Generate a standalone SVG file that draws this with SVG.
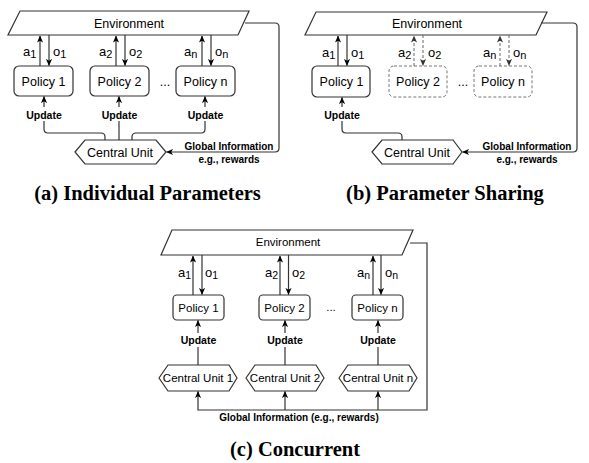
<svg xmlns="http://www.w3.org/2000/svg" width="589" height="463" viewBox="0 0 589 463">
<style>
.shape{fill:#fff;stroke:#333;stroke-width:1.2}
.dash{fill:#fff;stroke:#777;stroke-width:1;stroke-dasharray:3 2}
.ln{fill:none;stroke:#333;stroke-width:1.2}
.dl{fill:none;stroke:#666;stroke-width:1;stroke-dasharray:3 2}
text{font-family:"Liberation Sans",Arial,sans-serif;fill:#000}
.t12{font-size:12.5px;text-anchor:middle}
.t11{font-size:11.5px;text-anchor:middle}
.up{font-size:10.5px;font-weight:bold;text-anchor:middle}
.gi{font-size:10px;font-weight:bold;text-anchor:middle}
.lbl{font-size:13px}
.cap{font-family:"Liberation Serif","Times New Roman",serif;font-size:20.5px;font-weight:bold;text-anchor:middle}
</style>
<defs>
<marker id="ah" viewBox="0 0 8 8" refX="7.5" refY="4" markerWidth="7" markerHeight="7" markerUnits="userSpaceOnUse" orient="auto"><path d="M0,0.5 L8,4 L0,7.5 L2,4 Z" fill="#000"/></marker>
<marker id="ahg" viewBox="0 0 8 8" refX="7.5" refY="4" markerWidth="7" markerHeight="7" markerUnits="userSpaceOnUse" orient="auto"><path d="M0,0.5 L8,4 L0,7.5 L2,4 Z" fill="#333"/></marker>
</defs>

<!-- Panel (a) -->
<g id="a-env"><polygon class="shape" points="20,11 249,11 238,35 8,35"/><text class="t12" x="129" y="27.5">Environment</text></g>
<g id="a-p1"><rect class="shape" x="14" y="66" width="59" height="30" rx="5"/><text class="t12" x="43.5" y="85.5">Policy 1</text></g>
<g id="a-p2"><rect class="shape" x="90" y="66" width="59" height="30" rx="5"/><text class="t12" x="119.5" y="85.5">Policy 2</text></g>
<g id="a-pn"><rect class="shape" x="176" y="66" width="59" height="30" rx="5"/><text class="t12" x="205.5" y="85.5">Policy n</text></g>
<g id="a-cu"><polygon class="shape" points="75,152 85,140 156,140 166,152 156,164 85,164"/><text class="t12" x="120" y="156.5">Central Unit</text></g>
<text x="165" y="86" class="t12" font-size="11">...</text>

<!-- Panel (b) -->
<g id="b-env"><polygon class="shape" points="316,12 547,12 536,35 305,35"/><text class="t12" x="427" y="28">Environment</text></g>
<g id="b-p1"><rect class="shape" x="312" y="66" width="58" height="31" rx="5"/><text class="t12" x="341.5" y="86">Policy 1</text></g>
<g id="b-p2"><rect class="dash" x="389" y="66" width="58" height="31" rx="5"/><text class="t12" x="418" y="86">Policy 2</text></g>
<g id="b-pn"><rect class="dash" x="474" y="66" width="58" height="31" rx="5"/><text class="t12" x="503" y="86">Policy n</text></g>
<g id="b-cu"><polygon class="shape" points="372,152 382,140 453,140 462,152 453,164 382,164"/><text class="t12" x="417" y="156.5">Central Unit</text></g>
<text x="463" y="86" class="t12" font-size="11">...</text>

<!-- Panel (c) -->
<g id="c-env"><polygon class="shape" points="172,230 413,230 402,255 161,255"/><text class="t11" x="288" y="246">Environment</text></g>
<g id="c-p1"><rect class="shape" x="173" y="295" width="51" height="25" rx="4"/><text class="t11" x="198.5" y="311.5">Policy 1</text></g>
<g id="c-p2"><rect class="shape" x="259" y="295" width="51" height="25" rx="4"/><text class="t11" x="284.5" y="311.5">Policy 2</text></g>
<g id="c-pn"><rect class="shape" x="352" y="295" width="51" height="25" rx="4"/><text class="t11" x="377.5" y="311.5">Policy n</text></g>
<g id="c-cu1"><polygon class="shape" points="159,378 168,365 229,365 237,378 229,391 168,391"/><text class="t11" x="198" y="382" font-size="12">Central Unit 1</text></g>
<g id="c-cu2"><polygon class="shape" points="246,378 255,365 316,365 324,378 316,391 255,391"/><text class="t11" x="285" y="382" font-size="12">Central Unit 2</text></g>
<g id="c-cun"><polygon class="shape" points="339,378 348,365 409,365 417,378 409,391 348,391"/><text class="t11" x="378" y="382" font-size="12">Central Unit n</text></g>
<text x="331" y="311" class="t11" font-size="10.5">...</text>

<g id="connectors">
<path class="ln" d="M40,66 V36" marker-end="url(#ah)"/>
<path class="ln" d="M49,35 V65.5" marker-end="url(#ah)"/>
<path class="ln" d="M116,66 V36" marker-end="url(#ah)"/>
<path class="ln" d="M125,35 V65.5" marker-end="url(#ah)"/>
<path class="ln" d="M202,66 V36" marker-end="url(#ah)"/>
<path class="ln" d="M211,35 V65.5" marker-end="url(#ah)"/>
<path class="ln" d="M105,140 V137 Q105,133 101,133 H48 Q44,133 44,129 V96.5" marker-end="url(#ah)"/>
<path class="ln" d="M119,140 V96.5" marker-end="url(#ah)"/>
<path class="ln" d="M132,140 V137 Q132,133 136,133 H201 Q205,133 205,129 V96.5" marker-end="url(#ah)"/>
<path class="ln" d="M245,23 H275 Q279,23 279,27 V148 Q279,152 275,152 H166.5" marker-end="url(#ah)"/>

<path class="ln" d="M338,66 V36" marker-end="url(#ah)"/>
<path class="ln" d="M347,35 V65.5" marker-end="url(#ah)"/>
<path class="dl" d="M414,66 V36" marker-end="url(#ahg)"/>
<path class="dl" d="M423,35 V65.5" marker-end="url(#ahg)"/>
<path class="dl" d="M500,66 V36" marker-end="url(#ahg)"/>
<path class="dl" d="M509,35 V65.5" marker-end="url(#ahg)"/>
<path class="ln" d="M402,140 V137 Q402,133 398,133 H346 Q342,133 342,129 V97.5" marker-end="url(#ah)"/>
<path class="ln" d="M541,23 H573 Q577,23 577,27 V148 Q577,152 573,152 H462.5" marker-end="url(#ah)"/>

<path class="ln" d="M193,295 V256" marker-end="url(#ah)"/>
<path class="ln" d="M202,255 V294.5" marker-end="url(#ah)"/>
<path class="ln" d="M280,295 V256" marker-end="url(#ah)"/>
<path class="ln" d="M288.5,255 V294.5" marker-end="url(#ah)"/>
<path class="ln" d="M373,295 V256" marker-end="url(#ah)"/>
<path class="ln" d="M381,255 V294.5" marker-end="url(#ah)"/>
<path class="ln" d="M198,365 V320.5" marker-end="url(#ah)"/>
<path class="ln" d="M285,365 V320.5" marker-end="url(#ah)"/>
<path class="ln" d="M378,365 V320.5" marker-end="url(#ah)"/>
<path class="ln" d="M410,243 H427 V410 H198 V391.5" marker-end="url(#ah)"/>
<path class="ln" d="M285,410 V391.5" marker-end="url(#ah)"/>
<path class="ln" d="M378,410 V391.5" marker-end="url(#ah)"/>
</g>

<g id="labels">
<text class="lbl" x="23" y="56">a<tspan font-size="11" dy="2">1</tspan></text>
<text class="lbl" x="53" y="56">o<tspan font-size="11" dy="2">1</tspan></text>
<text class="lbl" x="99" y="56">a<tspan font-size="11" dy="2">2</tspan></text>
<text class="lbl" x="129" y="56">o<tspan font-size="11" dy="2">2</tspan></text>
<text class="lbl" x="184" y="56">a<tspan font-size="11" dy="2">n</tspan></text>
<text class="lbl" x="215" y="56">o<tspan font-size="11" dy="2">n</tspan></text>

<rect x="24" y="107" width="40" height="14" fill="#fff"/>
<rect x="99" y="107" width="40" height="14" fill="#fff"/>
<rect x="185" y="107" width="40" height="14" fill="#fff"/>
<text class="up" x="44" y="119">Update</text>
<text class="up" x="119.5" y="119">Update</text>
<text class="up" x="205.5" y="119">Update</text>
<text class="gi" x="229" y="150">Global Information</text>
<text class="gi" x="229" y="163">e.g., rewards</text>

<text class="lbl" x="322" y="57">a<tspan font-size="11" dy="2">1</tspan></text>
<text class="lbl" x="351" y="57">o<tspan font-size="11" dy="2">1</tspan></text>
<text class="lbl" x="398" y="57">a<tspan font-size="11" dy="2">2</tspan></text>
<text class="lbl" x="428" y="57">o<tspan font-size="11" dy="2">2</tspan></text>
<text class="lbl" x="483" y="57">a<tspan font-size="11" dy="2">n</tspan></text>
<text class="lbl" x="513" y="57">o<tspan font-size="11" dy="2">n</tspan></text>
<rect x="322" y="107" width="40" height="14" fill="#fff"/>
<text class="up" x="342" y="119">Update</text>
<text class="gi" x="527" y="150">Global Information</text>
<text class="gi" x="527" y="163">e.g., rewards</text>

<text class="lbl" x="178" y="277" font-size="12">a<tspan font-size="10.5" dy="2">1</tspan></text>
<text class="lbl" x="205" y="277" font-size="12">o<tspan font-size="10.5" dy="2">1</tspan></text>
<text class="lbl" x="265" y="277" font-size="12">a<tspan font-size="10.5" dy="2">2</tspan></text>
<text class="lbl" x="292" y="277" font-size="12">o<tspan font-size="10.5" dy="2">2</tspan></text>
<text class="lbl" x="357" y="277" font-size="12">a<tspan font-size="10.5" dy="2">n</tspan></text>
<text class="lbl" x="385" y="277" font-size="12">o<tspan font-size="10.5" dy="2">n</tspan></text>
<rect x="178" y="333" width="40" height="14" fill="#fff"/>
<rect x="265" y="333" width="40" height="14" fill="#fff"/>
<rect x="358" y="333" width="40" height="14" fill="#fff"/>
<text class="up" x="198.5" y="344">Update</text>
<text class="up" x="285" y="344">Update</text>
<text class="up" x="378" y="344">Update</text>
<text class="gi" x="299" y="421" font-size="10.5" font-weight="normal">Global Information (e.g., rewards)</text>
</g>

<text class="cap" x="147.5" y="200">(a) Individual Parameters</text>
<text class="cap" x="445" y="200">(b) Parameter Sharing</text>
<text class="cap" x="295" y="456" font-size="21">(c) Concurrent</text>
</svg>
